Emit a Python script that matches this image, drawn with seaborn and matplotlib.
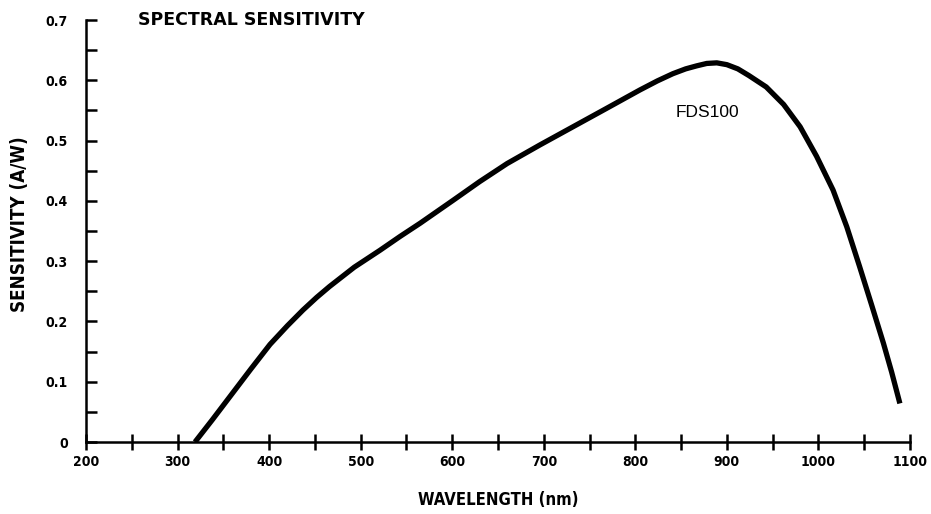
import matplotlib
matplotlib.use("Agg")
import matplotlib.pyplot as plt
from matplotlib.ticker import MultipleLocator
import seaborn as sns
import pandas as pd

# Photodiode responsivity curve (FDS100)
wavelength_nm = [319, 338, 357, 380, 401, 420, 437, 452, 466, 493, 521, 543,
                 565, 583, 601, 630, 660, 696, 732, 768, 805, 824, 841, 855,
                 867, 878, 889, 900, 912, 924, 943, 962, 980, 998, 1016, 1031,
                 1045, 1058, 1071, 1080, 1089]
sensitivity_aw = [0.0, 0.037, 0.075, 0.121, 0.162, 0.193, 0.219, 0.240, 0.258,
                  0.290, 0.318, 0.341, 0.363, 0.382, 0.401, 0.432, 0.462,
                  0.493, 0.523, 0.553, 0.584, 0.599, 0.611, 0.619, 0.624,
                  0.628, 0.629, 0.626, 0.619, 0.608, 0.589, 0.560, 0.523,
                  0.474, 0.418, 0.357, 0.291, 0.228, 0.164, 0.116, 0.064]

x_ticks = [200, 300, 400, 500, 600, 700, 800, 900, 1000, 1100]
y_ticks = [0, 0.1, 0.2, 0.3, 0.4, 0.5, 0.6, 0.7]
y_tick_labels = ["0", "0.1", "0.2", "0.3", "0.4", "0.5", "0.6", "0.7"]

df = pd.DataFrame({"wavelength": wavelength_nm, "sensitivity": sensitivity_aw})

sns.set_theme(style="ticks")
plt.rcParams["font.family"] = ["Liberation Sans", "DejaVu Sans"]

fig = plt.figure(figsize=(9.31, 5.14), dpi=100)
ax = fig.add_axes([0.0924, 0.140, 0.885, 0.821])

sns.lineplot(data=df, x="wavelength", y="sensitivity", ax=ax,
             color="black", linewidth=3.8, solid_joinstyle="round",
             solid_capstyle="butt")

ax.set_xlim(200, 1100)
ax.set_ylim(0, 0.7)

for side in ("top", "right"):
    ax.spines[side].set_visible(False)
for side in ("left", "bottom"):
    ax.spines[side].set_linewidth(1.8)
    ax.spines[side].set_color("black")

ax.set_xticks(x_ticks)
ax.set_xticklabels([str(t) for t in x_ticks])
ax.set_yticks(y_ticks)
ax.set_yticklabels(y_tick_labels)
ax.xaxis.set_minor_locator(MultipleLocator(50))
ax.yaxis.set_minor_locator(MultipleLocator(0.05))

ax.tick_params(axis="x", which="both", direction="inout", length=11,
               width=1.8, color="black", pad=4)
ax.tick_params(axis="y", which="both", direction="in", length=8,
               width=1.8, color="black", pad=13)

for lab in ax.get_xticklabels() + ax.get_yticklabels():
    lab.set_fontfamily(["DejaVu Sans"])
    lab.set_fontweight("bold")
    lab.set_fontstretch("condensed")
    lab.set_fontsize(10)
    lab.set_color("black")

ax.set_xlabel("WAVELENGTH (nm)", fontsize=12, fontweight="bold",
              fontfamily=["DejaVu Sans"], fontstretch="condensed",
              color="black", labelpad=16)
ax.set_ylabel("SENSITIVITY (A/W)", fontsize=13.5, fontweight="bold",
              fontfamily=["DejaVu Sans"], fontstretch="condensed",
              color="black")
ax.yaxis.set_label_coords(-0.069, 0.517)

fig.text(138 / 931, 1 - 20 / 514, "SPECTRAL SENSITIVITY", fontsize=12.5,
         fontweight="bold", fontfamily=["DejaVu Sans"], color="black",
         ha="left", va="center")
ax.text(879, 0.546, "FDS100", fontsize=12.5, color="black",
        ha="center", va="center")

ax.set_facecolor("white")
fig.patch.set_facecolor("white")
fig.savefig("out.png", dpi=100, facecolor="white")
